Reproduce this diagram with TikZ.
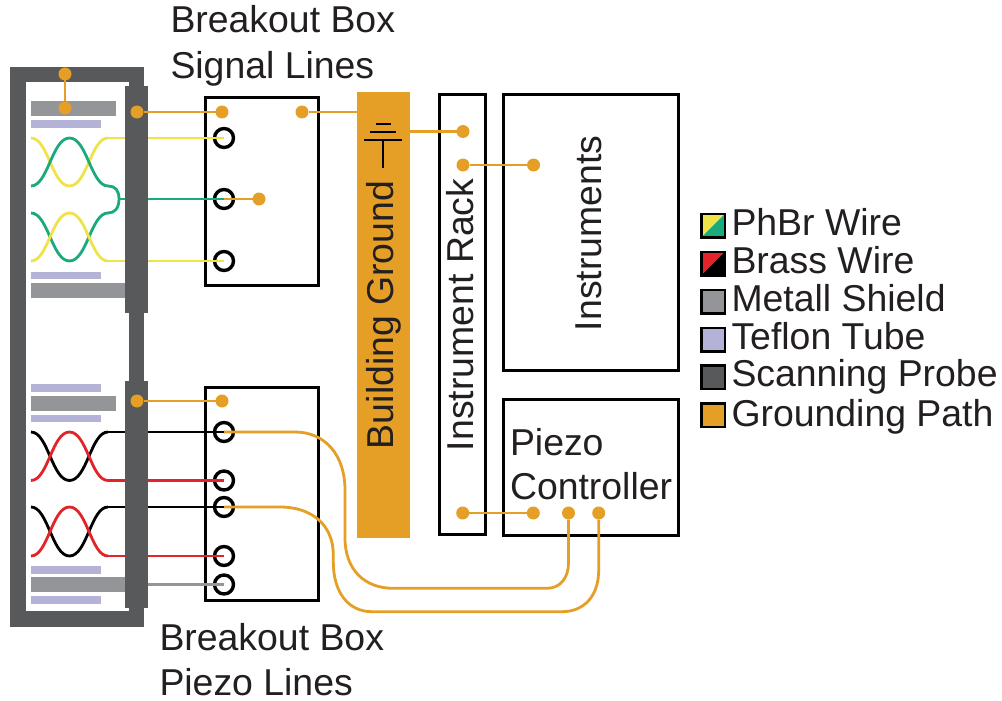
\documentclass[tikz,border=0pt]{standalone}
\usepackage{fontspec}
\setmainfont{Liberation Sans}
\definecolor{cProbe}{HTML}{58595B}
\definecolor{cShield}{HTML}{939598}
\definecolor{cTeflon}{HTML}{B5B2D8}
\definecolor{cYellow}{HTML}{EEE34A}
\definecolor{cGreen}{HTML}{1AAA7D}
\definecolor{cRed}{HTML}{E22428}
\definecolor{cOrange}{HTML}{E59F26}
\definecolor{cText}{HTML}{231F20}
\tikzset{
  boxn/.style={draw=black,line width=3.2pt,fill=white,rectangle,inner sep=0pt,outer sep=0pt},
  port/.style={circle,draw=black,line width=3.4pt,minimum size=19pt,inner sep=0pt,outer sep=0pt},
  gdot/.style={circle,fill=cOrange,minimum size=13pt,inner sep=0pt,outer sep=0pt},
  gline/.style={draw=cOrange,line width=2.8pt},
  wire/.style={line width=2.8pt},
  lbl/.style={font=\fontsize{37.4}{37.4}\selectfont,text=cText,inner sep=0pt,outer sep=0pt,anchor=base west},
  vlbl/.style={lbl,rotate=90},
  swatch/.style={draw=black,line width=2.5pt,rectangle,minimum width=23.5pt,minimum height=23.5pt,inner sep=0pt,outer sep=0pt},
  ground/.style={draw=black,line width=2.2pt}
}
\newcommand{\twist}[4]{% top y, bottom y, colour starting top, colour starting bottom
  \draw[wire,#3] (31,#1) .. controls (48,#1) and (52,#2) .. (69.5,#2) .. controls (87,#2) and (91,#1) .. (108,#1);
  \draw[wire,#4] (31,#2) .. controls (48,#2) and (52,#1) .. (69.5,#1) .. controls (87,#1) and (91,#2) .. (108,#2);
}
\begin{document}
\begin{tikzpicture}[x=1pt,y=-1pt]
\useasboundingbox (0,0) rectangle (1002,701);
\fill[white] (0,0) rectangle (1002,701);
% housing
\fill[cProbe] (10.3,67) rectangle (144.4,627);
\fill[white] (25.7,82.3) rectangle (129,611.3);
% shields and tubes
\fill[cShield] (31,101) rectangle (116,116);
\fill[cTeflon] (31,120) rectangle (101,128);
\fill[cTeflon] (31,271.5) rectangle (101,279);
\fill[cShield] (31,283) rectangle (125,298);
\fill[cTeflon] (31,384) rectangle (101,392);
\fill[cShield] (31,395.5) rectangle (116,410.5);
\fill[cTeflon] (31,414.5) rectangle (101,422);
\fill[cTeflon] (31,566) rectangle (101,573.5);
\fill[cShield] (31,577) rectangle (125,592);
\fill[cTeflon] (31,596) rectangle (101,604);
% breakout boxes and other boxes
\node[boxn,minimum width=113pt,minimum height=188pt] (boxS) at (262,191.6) {};
\node[boxn,minimum width=113pt,minimum height=213.3pt] (boxP) at (262,493.8) {};
\node[rectangle,fill=cOrange,minimum width=53pt,minimum height=446pt,inner sep=0pt,outer sep=0pt] (bg) at (383.5,315) {};
\node[boxn,minimum width=46pt,minimum height=439.4pt] (rack) at (462.8,314.5) {};
\node[boxn,minimum width=174.7pt,minimum height=276pt] (instr) at (591.2,232.8) {};
\node[boxn,minimum width=174.7pt,minimum height=135.4pt] (piezo) at (591.2,467.5) {};
% ports
\node[port] (s1) at (224,138) {};
\node[port] (s2) at (224,199) {};
\node[port] (s3) at (224,261) {};
\node[port] (p1) at (224,432) {};
\node[port] (p2) at (224,480.5) {};
\node[port] (p3) at (224,507) {};
\node[port] (p4) at (224,556) {};
\node[port] (p5) at (224,584.5) {};
% wire joints
\coordinate (y1) at (108,138);
\coordinate (y2) at (108,261);
\coordinate (gj) at (119,199);
\coordinate (k1) at (108,432);
\coordinate (r1) at (108,480.5);
\coordinate (k2) at (108,507);
\coordinate (r2) at (108,556);
\coordinate (sh) at (125,584.5);
% signal wires
\twist{138}{186}{cYellow}{cGreen}
\twist{213}{261}{cGreen}{cYellow}
\draw[wire,cGreen] (108,186) .. controls (115,186) and (119,190) .. (gj) .. controls (119,208) and (115,213) .. (108,213);
\draw[wire,cYellow] (y1) -- (s1.center);
\draw[wire,cYellow] (y2) -- (s3.center);
\draw[wire,cGreen] (gj) -- (s2.center);
% piezo wires
\twist{432}{480.5}{black}{cRed}
\twist{507}{556}{black}{cRed}
\draw[wire,black] (k1) -- (p1.center);
\draw[wire,cRed] (r1) -- (p2.center);
\draw[wire,black] (k2) -- (p3.center);
\draw[wire,cRed] (r2) -- (p4.center);
\draw[wire,cShield] (sh) -- (p5.center);
% probe bars
\fill[cProbe] (125,86) rectangle (148,313);
\fill[cProbe] (125,381) rectangle (148,608);
% ground symbol
\coordinate (gs) at (383.3,140);
\draw[ground] (gs) -- (383.3,168.3);
\draw[ground] (364.3,140) -- (402.3,140);
\draw[ground] (370,131.7) -- (396.3,131.7);
\draw[ground] (376,124) -- (391,124);
% grounding dots
\node[gdot] (d1) at (65,74) {};
\node[gdot] (d2) at (65,108) {};
\node[gdot] (d3) at (137,112) {};
\node[gdot] (d4) at (222,112) {};
\node[gdot] (d5) at (302,112) {};
\node[gdot] (d6) at (259,199) {};
\node[gdot] (d7) at (137,401) {};
\node[gdot] (d8) at (222,401) {};
\node[gdot] (d9) at (463,131.5) {};
\node[gdot] (d10) at (463,165) {};
\node[gdot] (d11) at (533.5,165) {};
\node[gdot] (d12) at (462.7,513) {};
\node[gdot] (d13) at (533.3,513) {};
\node[gdot] (d14) at (568.5,513) {};
\node[gdot] (d15) at (598.7,513) {};
% grounding lines
\draw[gline] (d1) -- (d2);
\draw[gline] (d3) -- (d4);
\draw[gline] (d5) -- (bg.west |- d5);
\draw[gline] (s2.center) -- (d6);
\draw[gline] (d7) -- (d8);
\draw[gline] (bg.east |- d9) -- (d9);
\draw[gline] (d10) -- (d11);
\draw[gline] (d12) -- (d13);
\draw[gline] (p1.center) -- (295,432) .. controls (325,432) and (345,455) .. (345,490) -- (345,538) .. controls (345,570) and (365,588.3) .. (393,588.3) -- (547,588.3) .. controls (560,588.3) and (568.5,578) .. (568.5,563) -- (d14);
\draw[gline] (p3.center) -- (280,507) .. controls (312,507) and (333.3,525) .. (333.3,555) -- (333.3,562) .. controls (333.3,592) and (348,611.7) .. (372,611.7) -- (562,611.7) .. controls (585,611.7) and (598.7,595) .. (598.7,570) -- (d15);
% labels
\node[lbl] (t1) at (170.5,33) {Breakout Box};
\node[lbl] (t2) at (170.5,78) {Signal Lines};
\node[lbl] (t3) at (159.5,650) {Breakout Box};
\node[lbl] (t4) at (159.5,695) {Piezo Lines};
\node[lbl] (t5) at (510,455) {Piezo};
\node[lbl] (t6) at (510,499.3) {Controller};
\node[vlbl] (t7) at (393.8,449) {Building Ground};
\node[vlbl] (t8) at (473.7,451) {Instrument Rack};
\node[vlbl] (t9) at (601.7,331) {Instruments};
% legend
\node[swatch,fill=cGreen] (l1) at (713,225.7) {};
\fill[cYellow] (l1.north west) -- (l1.north east) -- (l1.south west) -- cycle;
\draw[line width=2.5pt,black] (l1.north west) rectangle (l1.south east);
\node[swatch,fill=black] (l2) at (713,263.5) {};
\fill[cRed] (l2.north west) -- (l2.north east) -- (l2.south west) -- cycle;
\draw[line width=2.5pt,black] (l2.north west) rectangle (l2.south east);
\node[swatch,fill=cShield] (l3) at (713,301.5) {};
\node[swatch,fill=cTeflon] (l4) at (713,339.5) {};
\node[swatch,fill=cProbe] (l5) at (713,377) {};
\node[swatch,fill=cOrange] (l6) at (713,415) {};
\node[lbl] (e1) at (731.5,235) {PhBr Wire};
\node[lbl] (e2) at (731.5,273) {Brass Wire};
\node[lbl] (e3) at (731.5,311) {Metall Shield};
\node[lbl] (e4) at (731.5,349) {Teflon Tube};
\node[lbl] (e5) at (731.5,386.5) {Scanning Probe};
\node[lbl] (e6) at (731.5,426) {Grounding Path};
\end{tikzpicture}
\end{document}
